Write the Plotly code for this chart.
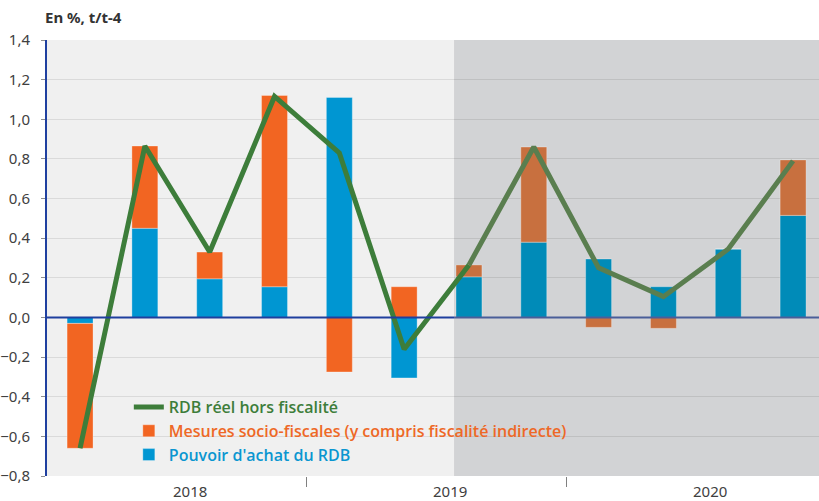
import plotly.graph_objects as go

# Quarters 2017T3 .. 2020T2 (index 0..11), contributions in points
quarters = list(range(12))
pouvoir_achat = [-0.03, 0.45, 0.195, 0.155, 1.11, -0.305, 0.205, 0.38, 0.295, 0.155, 0.345, 0.515]
mesures_fiscales = [-0.63, 0.415, 0.135, 0.965, -0.275, 0.155, 0.06, 0.48, -0.05, -0.055, 0.0, 0.28]
rdb_reel = [-0.66, 0.865, 0.33, 1.115, 0.83, -0.16, 0.265, 0.86, 0.25, 0.105, 0.345, 0.79]
years = ["2018", "2019", "2020"]

# forecast part (shaded) starts at index 6
first_prev = 6
blue_c = ["#0096d2" if i < first_prev else "#008bb8" for i in quarters]
orange_c = ["#f26522" if i < first_prev else "#c8703f" for i in quarters]
green, green_prev = "#3d7d3a", "#5a7e4f"

fig = go.Figure()
fig.add_trace(go.Bar(
    x=quarters, y=pouvoir_achat, width=0.4,
    marker=dict(color=blue_c, line=dict(width=0.6, color="rgba(255,255,255,0.5)")),
    name="<span style='color:#0a96d0'>Pouvoir d'achat du RDB</span>"))
fig.add_trace(go.Bar(
    x=quarters, y=mesures_fiscales, width=0.4,
    marker=dict(color=orange_c, line=dict(width=0.6, color="rgba(255,255,255,0.5)")),
    name="<span style='color:#ee6826'>Mesures socio-fiscales (y compris fiscalité indirecte)</span>"))
fig.add_trace(go.Scatter(
    x=quarters[:first_prev + 1], y=rdb_reel[:first_prev + 1], mode="lines",
    line=dict(color=green, width=5),
    name="<span style='color:#3d7d3a'>RDB réel hors fiscalité</span>"))
fig.add_trace(go.Scatter(
    x=quarters[first_prev:], y=rdb_reel[first_prev:], mode="lines",
    line=dict(color=green_prev, width=5), showlegend=False))

x_lo, x_hi = -0.51, 11.4
shade_from = 5.77

# shaded forecast area
fig.add_shape(type="rect", xref="x", yref="paper", x0=shade_from, x1=x_hi, y0=0, y1=1,
              fillcolor="#d2d3d5", line_width=0, layer="below")
# zero line
fig.add_shape(type="line", xref="x", yref="y", x0=x_lo, x1=shade_from, y0=0, y1=0,
              line=dict(color="#1f3f9e", width=2), layer="above")
fig.add_shape(type="line", xref="x", yref="y", x0=shade_from, x1=x_hi, y0=0, y1=0,
              line=dict(color="#4a5e99", width=2), layer="above")

for xpos, lab in zip([1.70, 5.71, 9.72], years):
    fig.add_annotation(x=xpos, y=0, xref="x", yref="paper", yanchor="middle", yshift=-15,
                       text=lab, showarrow=False, font=dict(size=15, color="#404040"))

fig.add_annotation(x=0, y=1, xref="paper", yref="paper", xanchor="left", yanchor="middle",
                   xshift=-4, yshift=23, showarrow=False, text="<b>En %, t/t-4</b>",
                   font=dict(size=15, color="#333333"))

fig.update_layout(
    width=819, height=501,
    margin=dict(l=47, r=0, t=40, b=25),
    paper_bgcolor="white", plot_bgcolor="#f0f0f0",
    barmode="relative", separators=", ",
    font=dict(family="Noto Sans", size=15, color="#404040"),
    showlegend=True,
    legend=dict(x=0.106, y=0.197, xanchor="left", yanchor="top", bgcolor="rgba(0,0,0,0)",
                traceorder="reversed", tracegroupgap=0,
                font=dict(family="Open Sans", size=16, weight=600)),
    xaxis=dict(range=[x_lo, x_hi], tickvals=[3.5, 7.5], ticktext=["", ""],
               ticks="outside", ticklen=10, tickcolor="#808080", showgrid=False,
               zeroline=False, showline=False),
    yaxis=dict(range=[-0.8, 1.4], dtick=0.2, tickformat=".1f",
               gridcolor="rgba(0,0,0,0.09)", gridwidth=1, zeroline=False,
               showline=True, linecolor="#1f40a0", linewidth=2,
               ticks="outside", ticklen=4, tickcolor="#909090", ticklabelstandoff=8),
)

# drop the default 8px page margin so the figure fills the window exactly
fig.write_html("out.html", config={"displayModeBar": False},
               post_script="document.body.style.margin = '0';")
